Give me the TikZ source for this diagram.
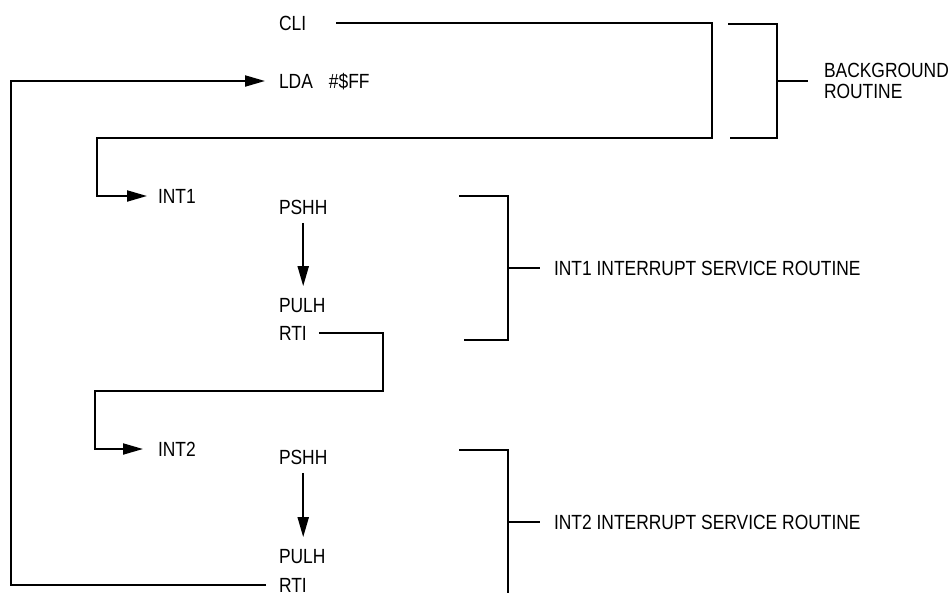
\documentclass[tikz,border=0pt]{standalone}
\usepackage{fontspec}
\setmainfont{Liberation Sans}[FakeStretch=0.85]
\usetikzlibrary{arrows.meta}
\begin{document}
\begin{tikzpicture}[x=1pt,y=-1pt,
  every path/.style={line width=2pt},
  txt/.style={inner sep=0pt, text height=14.7pt, text depth=0pt, anchor=west,
    font=\fontsize{20.5}{21}\selectfont},
  lbl/.style={inner sep=0pt, anchor=west, align=left,
    font=\fontsize{20.5}{21}\selectfont},
  arr/.style={-{Triangle[length=20pt,width=11pt]}}]
\useasboundingbox (0,0) rectangle (948,592);
% instruction texts
\node[txt] (cli)   at (278,23)  {CLI};
\node[txt] (lda)   at (278,81)  {LDA\hskip 16pt\#\$FF};
\node[txt] (int1)  at (157,196) {INT1};
\node[txt] (pshh1) at (278,207) {PSHH};
\node[txt] (pulh1) at (278,305) {PULH};
\node[txt] (rti1)  at (278,333) {RTI};
\node[txt] (int2)  at (157,449) {INT2};
\node[txt] (pshh2) at (278,457) {PSHH};
\node[txt] (pulh2) at (278,556) {PULH};
\node[txt] (rti2)  at (278,585) {RTI};
% labels
\node[lbl] (bg)   at (823,81)  {BACKGROUND\\ROUTINE};
\node[txt] (isr1) at (553,268) {INT1 INTERRUPT SERVICE ROUTINE};
\node[txt] (isr2) at (553,522) {INT2 INTERRUPT SERVICE ROUTINE};
% corner coordinates
\coordinate (c1) at (712,138);
\coordinate (c2) at (97,196);
\coordinate (c3) at (383,391);
\coordinate (c4) at (95,449);
\coordinate (c5) at (11,81);
% flow connectors
\draw[arr] ([xshift=29pt]cli.east) -| (c1) -| (c2) -- ([xshift=-10pt]int1.west);
\draw[arr] ([xshift=-12pt]rti2.west) -| (c5) -- ([xshift=-13pt]lda.west);
\draw[arr] ([yshift=-7.5pt]pshh1.south) -- ([yshift=10.5pt]pshh1.south |- pulh1.north);
\draw[arr] ([yshift=-7.5pt]pshh2.south) -- ([yshift=10.5pt]pshh2.south |- pulh2.north);
\draw[arr] ([xshift=11pt]rti1.east) -| (c3) -| (c4) -- ([xshift=-14pt]int2.west);
% brackets
\draw (728,24) -| (777,138) -- (730,138);
\coordinate (b0) at (777,81);
\draw (b0) -- ([xshift=-15pt]bg.west);
\draw (459,196) -| (508,340) -- (464,340);
\coordinate (b1) at (508,268);
\draw (b1) -- ([xshift=-13pt]isr1.west);
\draw (459,450) -| (508,600);
\coordinate (b2) at (508,522);
\draw (b2) -- ([xshift=-13pt]isr2.west);
\end{tikzpicture}
\end{document}
